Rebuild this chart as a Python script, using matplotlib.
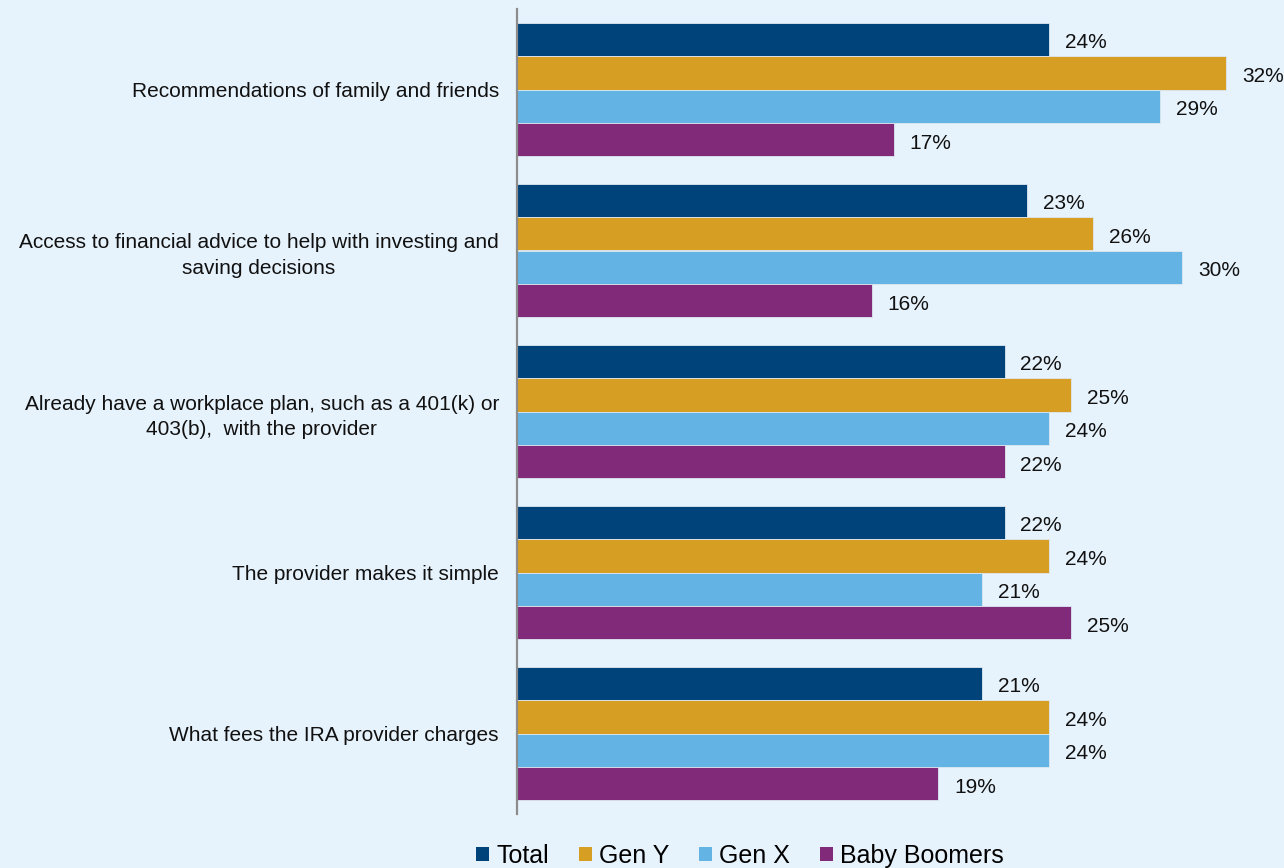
import matplotlib
matplotlib.use("Agg")
import matplotlib.pyplot as plt
from matplotlib.patches import Patch
import numpy as np

plt.rcParams['font.family'] = ['Liberation Sans', 'DejaVu Sans']

categories = [
    "Recommendations of family and friends",
    "Access to financial advice to help with investing and\nsaving decisions",
    "Already have a workplace plan, such as a 401(k) or\n403(b),  with the provider",
    "The provider makes it simple",
    "What fees the IRA provider charges",
]
series_names = ["Total", "Gen Y", "Gen X", "Baby Boomers"]
total = [24, 23, 22, 22, 21]
gen_y = [32, 26, 25, 24, 24]
gen_x = [29, 30, 24, 21, 24]
boomers = [17, 16, 22, 25, 19]
series_values = [total, gen_y, gen_x, boomers]
colors = ["#00427A", "#D69E22", "#63B4E4", "#822A7A"]
bg = "#E7F3FC"

W, H = 1284, 868
fig = plt.figure(figsize=(W / 100, H / 100), dpi=100, facecolor=bg)
ax_left, ax_right = 517 / W, 1.0
ax_top, ax_bot = 1 - 9 / H, 1 - 814 / H
ax = fig.add_axes([ax_left, ax_bot, ax_right - ax_left, ax_top - ax_bot])
ax.set_facecolor(bg)
ax.patch.set_alpha(0)

px_per_unit = 22.16
ax.set_xlim(0, (W - 517) / px_per_unit)
n = len(categories)
ax.set_ylim(n, 0)

bar_h = 0.208
centers = np.arange(n) + 0.5
for j, (vals, col) in enumerate(zip(series_values, colors)):
    y = centers + (j - 1.5) * bar_h
    bars = ax.barh(y, vals, height=bar_h, color=col, edgecolor="#dde8f2", linewidth=0.6)
    for b, v in zip(bars, vals):
        ax.annotate(f"{v}%", xy=(b.get_width(), b.get_y() + b.get_height() / 2),
                    xytext=(11.5, -2.5), textcoords="offset points",
                    ha="left", va="center", fontsize=15, color="#111111",
                    annotation_clip=False)

ax.set_yticks(centers)
ax.set_yticklabels(categories, fontsize=15, color="#111111",
                   multialignment="center", linespacing=1.45)
ax.tick_params(axis="y", length=0, pad=13)
ax.set_xticks([])
for s in ["top", "right", "bottom"]:
    ax.spines[s].set_visible(False)
ax.spines["left"].set_color("#8c8c8c")
ax.spines["left"].set_linewidth(1.6)

handles = [Patch(facecolor=c, edgecolor="none") for c in colors]
fig.legend(handles, series_names, loc="center", bbox_to_anchor=(740 / W, 12 / H),
           ncol=4, frameon=False, fontsize=18, handlelength=0.52, handleheight=0.52,
           handletextpad=0.28, columnspacing=1.2, borderaxespad=0, borderpad=0)

fig.savefig("out.png", dpi=100, facecolor=bg)
